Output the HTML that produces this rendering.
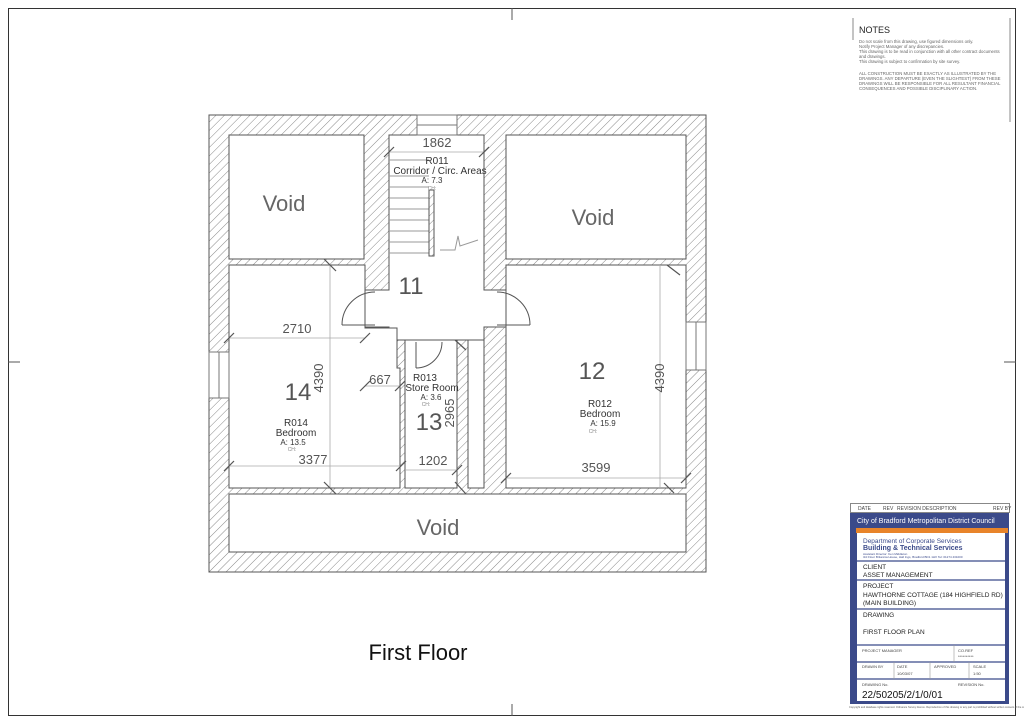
<!DOCTYPE html>
<html><head><meta charset="utf-8"><style>
body{margin:0;background:#fff}
svg{display:block;font-family:"Liberation Sans",sans-serif}
</style></head><body>
<svg width="1024" height="724" viewBox="0 0 1024 724" xmlns="http://www.w3.org/2000/svg">
<defs>
<pattern id="h" width="6" height="6" patternUnits="userSpaceOnUse" patternTransform="rotate(45)">
<rect width="6" height="6" fill="#fff"/><line x1="0" y1="0" x2="0" y2="6" stroke="#888" stroke-width="1"/>
</pattern>
</defs>
<rect x="0" y="0" width="1024" height="724" fill="#fff"/>
<rect x="8.5" y="8.5" width="1007" height="707" fill="none" stroke="#333" stroke-width="1"/>
<line x1="512" y1="8" x2="512" y2="20" stroke="#555"/><line x1="512" y1="704" x2="512" y2="716" stroke="#555"/>
<line x1="8" y1="362" x2="20" y2="362" stroke="#555"/><line x1="1004" y1="362" x2="1016" y2="362" stroke="#555"/>

<rect x="209" y="115" width="497" height="457" fill="url(#h)" stroke="#555"/>
<g fill="#fff" stroke="#555" stroke-width="1">
<rect x="229" y="135" width="135" height="124"/>
<rect x="506" y="135" width="180" height="124"/>
<polygon points="389,135 484,135 484,290 506,290 506,327 484,327 484,340 389,340 389,327 365,327 365,290 389,290"/>
<polygon points="229,265 365,265 365,328 397,328 397,368 400,368 400,488 229,488"/>
<rect x="405" y="340" width="52" height="148"/>
<rect x="468" y="340" width="16" height="148"/>
<rect x="506" y="265" width="180" height="223"/>
<rect x="229" y="494" width="457" height="58"/>
</g>
<g stroke="#999" stroke-width="1">
<line x1="389" y1="160" x2="429" y2="160"/><line x1="389" y1="176" x2="429" y2="176"/>
<line x1="389" y1="187" x2="429" y2="187"/><line x1="389" y1="198" x2="429" y2="198"/>
<line x1="389" y1="209" x2="429" y2="209"/><line x1="389" y1="220" x2="429" y2="220"/>
<line x1="389" y1="231" x2="429" y2="231"/><line x1="389" y1="242" x2="429" y2="242"/>
<line x1="389" y1="253" x2="429" y2="253"/>
<polyline points="440,250 455,250 458,236 460,246 478,240" fill="none"/>
</g>
<rect x="429" y="190" width="5" height="66" fill="url(#h)" stroke="#555"/>
<g fill="#fff" stroke="#777">
<rect x="417" y="115" width="40" height="20"/><line x1="417" y1="125" x2="457" y2="125"/>
<rect x="209" y="352" width="20" height="46"/><line x1="219" y1="352" x2="219" y2="398"/>
<rect x="686" y="322" width="20" height="48"/><line x1="696" y1="322" x2="696" y2="370"/>
</g>
<g fill="none" stroke="#555">
<path d="M342,325 A33,33 0 0 1 375,292"/><line x1="342" y1="325" x2="375" y2="325"/>
<path d="M530,325 A33,33 0 0 0 497,292"/><line x1="530" y1="325" x2="497" y2="325"/>
<path d="M416,368 A26,26 0 0 0 442,342"/><line x1="416" y1="342" x2="416" y2="368"/>
</g>
<g stroke="#aaa" stroke-width="0.8">
<line x1="229" y1="338" x2="365" y2="338"/><line x1="330" y1="265" x2="330" y2="488"/>
<line x1="229" y1="466" x2="400" y2="466"/><line x1="506" y1="478" x2="686" y2="478"/>
<line x1="389" y1="152" x2="484" y2="152"/><line x1="405" y1="470" x2="457" y2="470"/>
<line x1="365" y1="386" x2="400" y2="386"/><line x1="660" y1="265" x2="660" y2="488"/>
</g>
<g stroke="#555" stroke-width="1.2">
<line x1="224" y1="343" x2="234" y2="333"/><line x1="224" y1="471" x2="234" y2="461"/>
<line x1="324" y1="259" x2="336" y2="271"/><line x1="324" y1="482" x2="336" y2="494"/>
<line x1="360" y1="343" x2="370" y2="333"/><line x1="360" y1="391" x2="370" y2="381"/>
<line x1="395" y1="391" x2="405" y2="381"/><line x1="396" y1="471" x2="406" y2="461"/>
<line x1="384" y1="157" x2="394" y2="147"/><line x1="479" y1="157" x2="489" y2="147"/>
<line x1="452" y1="475" x2="462" y2="465"/><line x1="455" y1="482" x2="466" y2="494"/>
<line x1="455" y1="340" x2="466" y2="350"/><line x1="501" y1="483" x2="511" y2="473"/>
<line x1="664" y1="483" x2="674" y2="493"/><line x1="681" y1="483" x2="691" y2="473"/>
<line x1="667" y1="265" x2="680" y2="275"/>
</g>
<g fill="#333" text-anchor="middle">
<text x="284" y="211" font-size="22" fill="#666">Void</text>
<text x="593" y="225" font-size="22" fill="#666">Void</text>
<text x="438" y="535" font-size="22" fill="#666">Void</text>
<text x="437" y="147" font-size="13" fill="#555">1862</text>
<text x="437" y="164" font-size="10">R011</text>
<text x="440" y="174" font-size="10">Corridor / Circ. Areas</text>
<text x="432" y="183" font-size="8">A: 7.3</text>
<text x="432" y="190" font-size="5" fill="#888">CH:</text>
<text x="411" y="294" font-size="24" fill="#555">11</text>
<text x="297" y="333" font-size="13" fill="#555">2710</text>
<text x="298" y="400" font-size="24" fill="#555">14</text>
<text x="296" y="426" font-size="10">R014</text>
<text x="296" y="436" font-size="10">Bedroom</text>
<text x="293" y="445" font-size="8">A: 13.5</text>
<text x="292" y="451" font-size="5" fill="#888">CH:</text>
<text x="313" y="464" font-size="13" fill="#555">3377</text>
<text x="380" y="384" font-size="13" fill="#555">667</text>
<text x="425" y="381" font-size="10">R013</text>
<text x="432" y="391" font-size="10">Store Room</text>
<text x="431" y="400" font-size="8">A: 3.6</text>
<text x="426" y="406" font-size="5" fill="#888">CH:</text>
<text x="429" y="430" font-size="24" fill="#555">13</text>
<text x="433" y="465" font-size="13" fill="#555">1202</text>
<text x="592" y="379" font-size="24" fill="#555">12</text>
<text x="600" y="407" font-size="10">R012</text>
<text x="600" y="417" font-size="10">Bedroom</text>
<text x="603" y="426" font-size="8">A: 15.9</text>
<text x="593" y="433" font-size="5" fill="#888">CH:</text>
<text x="596" y="472" font-size="13" fill="#555">3599</text>
<text transform="translate(323,378) rotate(-90)" font-size="13" fill="#555">4390</text>
<text transform="translate(454,413) rotate(-90)" font-size="13" fill="#555">2965</text>
<text transform="translate(664,378) rotate(-90)" font-size="13" fill="#555">4390</text>
<text x="418" y="660" font-size="22" fill="#111">First Floor</text>
</g>

<line x1="853" y1="18" x2="853" y2="40" stroke="#888"/>
<line x1="1010" y1="18" x2="1010" y2="122" stroke="#888"/>
<text x="859" y="33" font-size="9" fill="#222">NOTES</text>
<g font-size="4.3" fill="#666">
<text x="859" y="43">Do not scale from this drawing, use figured dimensions only.</text>
<text x="859" y="48">Notify Project Manager of any discrepancies.</text>
<text x="859" y="53">This drawing is to be read in conjunction with all other contract documents</text>
<text x="859" y="58">and drawings.</text>
<text x="859" y="63">This drawing is subject to confirmation by site survey.</text>
<text x="859" y="75">ALL CONSTRUCTION MUST BE EXACTLY AS ILLUSTRATED BY THE</text>
<text x="859" y="80">DRAWINGS. ANY DEPARTURE (EVEN THE SLIGHTEST) FROM THESE</text>
<text x="859" y="85">DRAWINGS WILL BE RESPONSIBLE FOR ALL RESULTANT FINANCIAL</text>
<text x="859" y="90">CONSEQUENCES AND POSSIBLE DISCIPLINARY ACTION.</text>
</g>

<g font-size="5" fill="#444">
<rect x="850.5" y="503.5" width="159" height="9" fill="none" stroke="#888"/>
<text x="858" y="510">DATE</text><text x="883" y="510">REV</text><text x="897" y="510">REVISION DESCRIPTION</text><text x="993" y="510">REV BY</text>
<rect x="850" y="513" width="159" height="191" fill="#3b4a8a"/>
<rect x="856" y="528" width="152" height="5" fill="#e8842a"/>
<text x="857" y="523" font-size="7" fill="#fff">City of Bradford Metropolitan District Council</text>
<rect x="857" y="533" width="148" height="168" fill="#fff"/>
<text x="863" y="543" font-size="6.5" fill="#3b4a8a">Department of Corporate Services</text>
<text x="863" y="550" font-size="7" fill="#3b4a8a" font-weight="bold">Building &amp; Technical Services</text>
<text x="863" y="555" font-size="3" fill="#3b4a8a">Assistant Director:  Ken Middleton</text>
<text x="863" y="558" font-size="3" fill="#3b4a8a">3rd Floor Britannia House, Hall Ings, Bradford BD1 1HX  Tel: 01274 431000</text>
<g stroke="#3b4a8a" stroke-width="1.2">
<line x1="857" y1="561" x2="1005" y2="561"/><line x1="857" y1="580" x2="1005" y2="580"/>
<line x1="857" y1="609" x2="1005" y2="609"/><line x1="857" y1="645" x2="1005" y2="645"/>
<line x1="857" y1="662" x2="1005" y2="662"/><line x1="857" y1="679" x2="1005" y2="679"/>
</g>
<g stroke="#999" stroke-width="0.6">
<line x1="954" y1="645" x2="954" y2="662"/><line x1="894" y1="662" x2="894" y2="679"/>
<line x1="930" y1="662" x2="930" y2="679"/><line x1="969" y1="662" x2="969" y2="679"/>
</g>
<g font-size="6.5" fill="#222">
<text x="863" y="569">CLIENT</text><text x="863" y="577">ASSET MANAGEMENT</text>
<text x="863" y="588">PROJECT</text><text x="863" y="597">HAWTHORNE COTTAGE (184 HIGHFIELD RD)</text>
<text x="863" y="605">(MAIN BUILDING)</text>
<text x="863" y="617">DRAWING</text><text x="863" y="634">FIRST FLOOR PLAN</text>
</g>
<text x="862" y="652" font-size="4">PROJECT MANAGER</text><text x="958" y="652" font-size="4">CO.REF</text>
<text x="958" y="658" font-size="4">**********</text>
<text x="862" y="668" font-size="4">DRAWN BY</text><text x="897" y="668" font-size="4">DATE</text>
<text x="897" y="675" font-size="4">10/03/07</text><text x="934" y="668" font-size="4">APPROVED</text>
<text x="973" y="668" font-size="4">SCALE</text><text x="973" y="675" font-size="4">1:50</text>
<text x="862" y="686" font-size="4">DRAWING No.</text><text x="958" y="686" font-size="4">REVISION No.</text>
<text x="862" y="698" font-size="10" fill="#111">22/50205/2/1/0/01</text>
<text x="849" y="708" font-size="2.6" fill="#555">Copyright and database rights reserved. Ordnance Survey licence. Reproduction of this drawing or any part is prohibited without written consent of the council.</text>
</g>
</svg>
</body></html>
